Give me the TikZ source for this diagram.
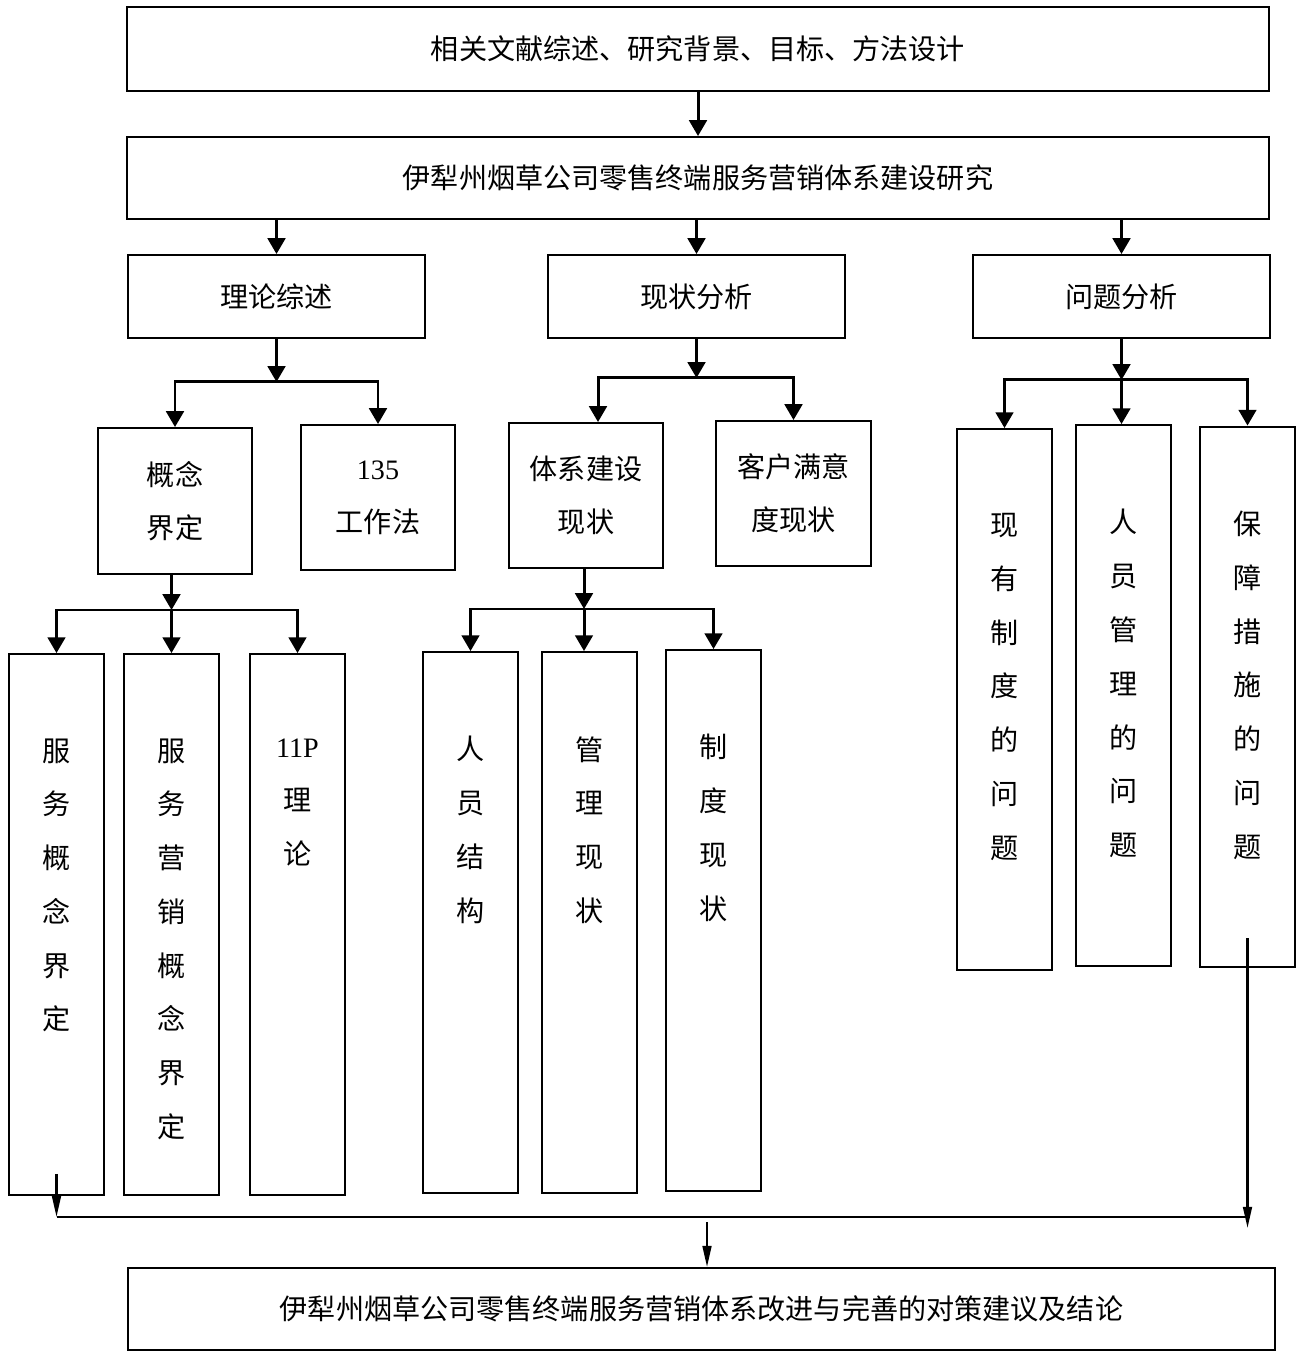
\documentclass[tikz,border=0pt]{standalone}
\usepackage{fontspec}
\setmainfont{Liberation Serif}
\newfontfamily\cjk{Noto Sans CJK SC}
\usetikzlibrary{shapes,arrows.meta,positioning,calc}

\tikzset{
  box/.style={draw, line width=1.1pt, inner sep=0pt, align=center,
    font=\cjk\fontsize{16}{30}\selectfont},
  tallbox/.style={draw, line width=1.1pt, inner sep=0pt,
    minimum width=1.9cm, minimum height=10.82cm},
  vtext/.style={anchor=north, inner sep=0pt, align=center,
    font=\cjk\fontsize{16}{30.6}\selectfont},
  arr/.style={line width=1.7pt, -{Triangle[width=10pt,length=9pt]}},
  thinarr/.style={line width=1.3pt, -{Triangle[width=5pt,length=12pt]}},
}

\begin{document}
\begin{tikzpicture}[x=0.02cm,y=-0.02cm]
  \useasboundingbox (0,0) rectangle (1295,1351);

  % top rows
  \node[box, minimum width=22.84cm, minimum height=1.68cm] (lit) at (698,49) {相关文献综述、研究背景、目标、方法设计};
  \node[box, minimum width=22.84cm, minimum height=1.64cm] (topic) at (698,178) {伊犁州烟草公司零售终端服务营销体系建设研究};
  \node[box, minimum width=5.94cm, minimum height=1.66cm] (theory) at (276.5,296.5) {理论综述};
  \node[box, minimum width=5.94cm, minimum height=1.66cm] (status) at (696.5,296.5) {现状分析};
  \node[box, minimum width=5.94cm, minimum height=1.66cm] (issue) at (1121.5,296.5) {问题分析};

  % second level
  \node[box, minimum width=3.08cm, minimum height=2.92cm] (concept) at (175,501) {概念\\界定};
  \node[box, minimum width=3.08cm, minimum height=2.9cm] (method) at (378,497.5) {\textrm{135}\\工作法};
  \node[box, minimum width=3.08cm, minimum height=2.9cm] (system) at (586,495.5) {体系建设\\现状};
  \node[box, minimum width=3.1cm, minimum height=2.9cm] (satisfy) at (793.5,493.5) {客户满意\\度现状};

  % tall boxes
  \node[tallbox] (sv1) at (56.5,924.5) {};
  \node[tallbox] (sv2) at (171.5,924.5) {};
  \node[tallbox] (sv3) at (297.5,924.5) {};
  \node[tallbox] (st1) at (470.5,922.5) {};
  \node[tallbox] (st2) at (589.5,922.5) {};
  \node[tallbox] (st3) at (713.5,920.5) {};
  \node[tallbox] (pb1) at (1004.5,699.5) {};
  \node[tallbox] (pb2) at (1123.5,695.5) {};
  \node[tallbox] (pb3) at (1247.5,697) {};

  \node[vtext] (sv1t) at ($(sv1.north)+(0,85)$) {服\\务\\概\\念\\界\\定};
  \node[vtext] (sv2t) at ($(sv2.north)+(0,85)$) {服\\务\\营\\销\\概\\念\\界\\定};
  \node[vtext] (sv3t) at ($(sv3.north)+(0,85)$) {\textrm{11P}\\理\\论};
  \node[vtext] (st1t) at ($(st1.north)+(0,85)$) {人\\员\\结\\构};
  \node[vtext] (st2t) at ($(st2.north)+(0,85)$) {管\\理\\现\\状};
  \node[vtext] (st3t) at ($(st3.north)+(0,85)$) {制\\度\\现\\状};
  \node[vtext] (pb1t) at ($(pb1.north)+(0,85)$) {现\\有\\制\\度\\的\\问\\题};
  \node[vtext] (pb2t) at ($(pb2.north)+(0,85)$) {人\\员\\管\\理\\的\\问\\题};
  \node[vtext] (pb3t) at ($(pb3.north)+(0,85)$) {保\\障\\措\\施\\的\\问\\题};

  \node[box, minimum width=22.94cm, minimum height=1.64cm] (advice) at (701.5,1309) {伊犁州烟草公司零售终端服务营销体系改进与完善的对策建议及结论};

  % branch points
  \coordinate (tb) at ($(theory.south)+(0,43)$);
  \coordinate (sb) at ($(status.south)+(0,39)$);
  \coordinate (ib) at ($(issue.south)+(0,41)$);
  \coordinate (cb) at (171.5,610);
  \coordinate (yb) at (584,609);
  \coordinate (jl) at (sv1.south |- 0,1217);
  \coordinate (jr) at (pb3.south |- 0,1217);
  \coordinate (jm) at (707,1222);

  % arrows
  \draw[arr] (lit) -- (topic);
  \draw[arr] (theory.north |- topic.south) -- (theory.north);
  \draw[arr] (status.north |- topic.south) -- (status.north);
  \draw[arr] (issue.north |- topic.south) -- (issue.north);

  \draw[arr] (theory.south) -- (tb);
  \draw[arr] (tb) -| (concept.north);
  \draw[arr] (tb) -| (method.north);
  \draw[arr] (status.south) -- (sb);
  \draw[arr] (sb) -| ([xshift=0.24cm]system.north);
  \draw[arr] (sb) -| (satisfy.north);
  \draw[arr] (issue.south) -- (ib);
  \draw[arr] (ib) -| (pb1.north);
  \draw[arr] (ib) -- (pb2.north -| ib);
  \draw[arr] (ib) -| (pb3.north);

  \draw[arr] (concept.south -| cb) -- (cb);
  \draw[arr] (cb) -| (sv1.north);
  \draw[arr] (cb) -- (sv2.north);
  \draw[arr] (cb) -| (sv3.north);
  \draw[arr] (system.south -| yb) -- (yb);
  \draw[arr] (yb) -| (st1.north);
  \draw[arr] (yb) -- (st2.north -| yb);
  \draw[arr] (yb) -| (st3.north);

  % bottom
  \draw[thinarr] ([yshift=0.44cm]sv1.south) -- (jl);
  \draw[line width=1.3pt] (jl) -- (jr);
  \draw[thinarr] ([yshift=0.6cm]pb3.south) -- ($(jr)+(0,11)$);
  \draw[thinarr] (jm) -- (jm |- advice.north);
\end{tikzpicture}
\end{document}
